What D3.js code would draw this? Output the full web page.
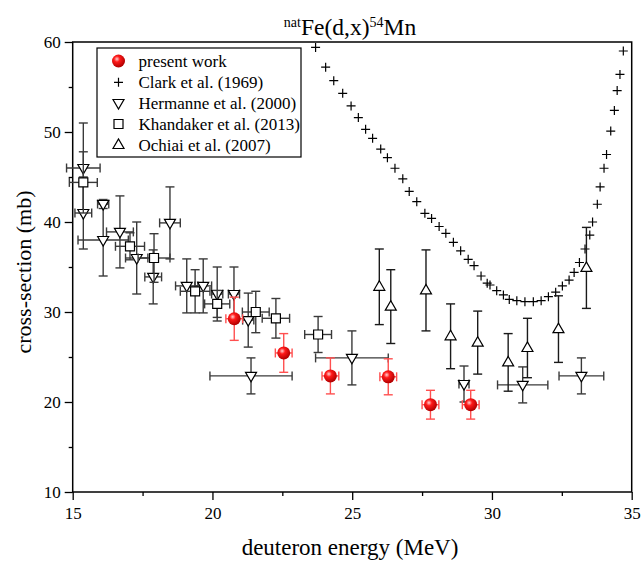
<!DOCTYPE html>
<html><head><meta charset="utf-8">
<script src="https://cdn.jsdelivr.net/npm/d3@7"></script>
<style>body{margin:0;background:#fff}svg{display:block}</style>
</head><body><svg id="c" width="642" height="563"></svg>
<script>
// Present work
const presentX = [20.78, 22.55, 24.22, 26.29, 27.8, 29.24];
const presentY = [29.25, 25.45, 22.9, 22.8, 19.7, 19.7];
const presentDY = [2.4, 2.15, 2.0, 2.0, 1.6, 1.6];
const presentDX = [0.3, 0.3, 0.3, 0.3, 0.3, 0.3];
// Clark et al. (1969)
const clarkX = [23.69, 24.05, 24.34, 24.66, 24.96, 25.22, 25.48, 25.73, 26.02, 26.26, 26.53, 26.81, 27.04, 27.31, 27.60, 27.84, 28.11, 28.35, 28.62, 28.88, 29.15, 29.36, 29.61, 29.83, 29.93, 30.17, 30.41, 30.62, 30.89, 31.18, 31.48, 31.76, 32.02, 32.28, 32.52, 32.76, 32.94, 33.13, 33.33, 33.50, 33.60, 33.77, 33.87, 34.01, 34.10, 34.25, 34.38, 34.48, 34.58, 34.70];
const clarkY = [59.4, 57.2, 55.7, 54.3, 52.9, 51.6, 50.3, 49.3, 48.1, 47.15, 45.97, 44.8, 43.4, 42.26, 40.96, 40.4, 39.5, 38.74, 37.74, 36.8, 35.85, 35.15, 34.0, 33.2, 33.0, 32.37, 31.9, 31.4, 31.26, 31.15, 31.15, 31.26, 31.7, 32.2, 32.9, 33.55, 34.4, 35.5, 37.0, 38.55, 40.0, 41.97, 43.9, 45.97, 47.5, 50.1, 52.4, 54.6, 56.4, 59.0];
// Hermanne et al. (2000)
const hermX = [15.38, 15.38, 16.09, 16.09, 16.69, 17.29, 17.88, 18.48, 19.08, 19.67, 20.17, 20.77, 21.28, 21.38, 24.99, 29.0, 31.1, 33.2];
const hermY = [46.0, 41.0, 42.0, 38.0, 38.9, 36.0, 33.9, 39.9, 32.9, 32.9, 32.0, 32.0, 29.1, 22.9, 24.9, 22.0, 21.9, 22.9];
const hermDY = [5.0, 4.0, 0.5, 4.0, 4.0, 4.0, 3.0, 4.0, 3.0, 3.0, 3.0, 3.0, 3.0, 2.0, 3.0, 2.0, 2.0, 2.0];
const hermDX = [0.6, 0.3, 0.2, 0.9, 0.48, 0.4, 0.3, 0.37, 0.4, 0.3, 0.2, 0.2, 0.2, 1.47, 1.3, 0.18, 0.9, 0.8];
// Khandaker et al. (2013)
const khanX = [15.38, 17.05, 17.91, 19.38, 20.17, 21.55, 22.27, 23.78];
const khanY = [44.4, 37.3, 36.0, 32.3, 30.9, 30.0, 29.3, 27.5];
const khanDY = [3.4, 1.5, 2.7, 2.4, 1.5, 2.3, 2.2, 2.0];
const khanDX = [0.5, 0.52, 0.57, 0.53, 0.45, 0.48, 0.49, 0.48];
// Ochiai et al. (2007)
const ochX = [25.97, 26.38, 27.64, 28.52, 29.49, 30.58, 31.27, 32.38, 33.38];
const ochY = [32.8, 30.6, 32.4, 27.3, 26.6, 24.4, 26.0, 28.1, 34.9];
const ochDY = [4.2, 4.1, 4.5, 3.6, 3.5, 3.2, 3.3, 3.7, 4.5];

const xTicks = [15, 20, 25, 30, 35];
const yTicks = [10, 20, 30, 40, 50, 60];
const legendLabels = ["present work", "Clark et al. (1969)", "Hermanne et al. (2000)", "Khandaker et al. (2013)", "Ochiai et al. (2007)"];

const FONT = "'Liberation Serif', 'Times New Roman', Tinos, 'DejaVu Serif', serif";
const svg = d3.select("#c").style("font-family", FONT);
const L = 72.7, R = 631.7, T = 42, B = 492;
const x = d3.scaleLinear().domain([15, 35]).range([L, R]);
const y = d3.scaleLinear().domain([10, 60]).range([B, T]);

const defs = svg.append("defs");
const g = defs.append("radialGradient").attr("id", "ball").attr("cx", "38%").attr("cy", "35%").attr("r", "65%");
g.append("stop").attr("offset", "0%").attr("stop-color", "#ffd0d0");
g.append("stop").attr("offset", "35%").attr("stop-color", "#ff1a1a");
g.append("stop").attr("offset", "100%").attr("stop-color", "#b00000");

// Axes
const xAxis = d3.axisBottom(x).tickValues(xTicks).tickSize(8).tickFormat(d3.format("d"));
const xAx = svg.append("g").attr("transform", `translate(0,${B})`).call(xAxis);
const yAxis = d3.axisLeft(y).tickValues(yTicks).tickSize(8).tickFormat(d3.format("d"));
const yAx = svg.append("g").attr("transform", `translate(${L},0)`).call(yAxis);
svg.append("g").attr("transform", `translate(0,${B})`).call(d3.axisBottom(x).tickValues([17.5, 22.5, 27.5, 32.5]).tickSize(4).tickFormat(""));
svg.append("g").attr("transform", `translate(${L},0)`).call(d3.axisLeft(y).tickValues([15, 25, 35, 45, 55]).tickSize(4).tickFormat(""));
svg.selectAll(".domain").remove();
svg.selectAll("g").attr("font-family", null);
svg.selectAll(".tick line").attr("stroke", "#000").attr("stroke-width", 1.3);
[xAx, yAx].forEach(a => a.selectAll("text").attr("font-size", 17).attr("fill", "#000"));
xAx.selectAll("text").attr("dy", "0.95em");
yAx.selectAll("text").attr("x", -12).attr("dy", "0.34em");

// Frame
svg.append("rect").attr("x", L).attr("y", T).attr("width", R - L).attr("height", B - T).attr("fill", "none").attr("stroke", "#000").attr("stroke-width", 1.5);

const plot = svg.append("g");
const cap = 4.5;
function errBars(xs, ys, dys, dxs, color) {
  const eg = plot.append("g").attr("stroke", color).attr("stroke-width", 1.4).attr("fill", "none");
  xs.forEach((xv, i) => {
    const cx = x(xv), cy = y(ys[i]);
    if (dys && dys[i]) {
      const y1 = y(ys[i] + dys[i]), y2 = y(ys[i] - dys[i]);
      eg.append("line").attr("x1", cx).attr("x2", cx).attr("y1", y1).attr("y2", y2);
      eg.append("line").attr("x1", cx - cap).attr("x2", cx + cap).attr("y1", y1).attr("y2", y1);
      eg.append("line").attr("x1", cx - cap).attr("x2", cx + cap).attr("y1", y2).attr("y2", y2);
    }
    if (dxs && dxs[i]) {
      const x1 = x(xv - dxs[i]), x2 = x(xv + dxs[i]);
      eg.append("line").attr("x1", x1).attr("x2", x2).attr("y1", cy).attr("y2", cy);
      eg.append("line").attr("x1", x1).attr("x2", x1).attr("y1", cy - cap).attr("y2", cy + cap);
      eg.append("line").attr("x1", x2).attr("x2", x2).attr("y1", cy - cap).attr("y2", cy + cap);
    }
  });
}
const triDown = "M-5.5,-3.5L5.5,-3.5L0,6Z";
const triUp = "M-5.5,3.5L5.5,3.5L0,-6Z";
const sq = "M-4.5,-4.5H4.5V4.5H-4.5Z";
const plus = "M-4.5,0H4.5M0,-4.5V4.5";

// Clark
plot.append("g").selectAll("path").data(clarkX).join("path")
  .attr("d", plus).attr("transform", (d, i) => `translate(${x(d)},${y(clarkY[i])})`)
  .attr("stroke", "#000").attr("stroke-width", 1.2).attr("fill", "none");
// Hermanne
errBars(hermX, hermY, hermDY, hermDX, "#3a3a3a");
plot.append("g").selectAll("path").data(hermX).join("path")
  .attr("d", triDown).attr("transform", (d, i) => `translate(${x(d)},${y(hermY[i])})`)
  .attr("stroke", "#000").attr("stroke-width", 1.2).attr("fill", "#fff");
// Khandaker
errBars(khanX, khanY, khanDY, khanDX, "#3a3a3a");
plot.append("g").selectAll("path").data(khanX).join("path")
  .attr("d", sq).attr("transform", (d, i) => `translate(${x(d)},${y(khanY[i])})`)
  .attr("stroke", "#000").attr("stroke-width", 1.2).attr("fill", "#fff");
// Ochiai
errBars(ochX, ochY, ochDY, null, "#1a1a1a");
plot.append("g").selectAll("path").data(ochX).join("path")
  .attr("d", triUp).attr("transform", (d, i) => `translate(${x(d)},${y(ochY[i])})`)
  .attr("stroke", "#000").attr("stroke-width", 1.2).attr("fill", "#fff");
// Present
errBars(presentX, presentY, presentDY, presentDX, "#ff5050");
plot.append("g").selectAll("circle").data(presentX).join("circle")
  .attr("cx", d => x(d)).attr("cy", (d, i) => y(presentY[i])).attr("r", 6.5)
  .attr("fill", "url(#ball)");

// Legend
const lg = svg.append("g");
lg.append("rect").attr("x", 97).attr("y", 48).attr("width", 204).attr("height", 109).attr("fill", "#fff").attr("stroke", "#000").attr("stroke-width", 1.2);
const rowsY = [61, 82.3, 103, 124, 145];
const sx = 118.5;
lg.append("circle").attr("cx", sx).attr("cy", rowsY[0]).attr("r", 6.5).attr("fill", "url(#ball)");
lg.append("path").attr("d", plus).attr("transform", `translate(${sx},${rowsY[1]})`).attr("stroke", "#000").attr("stroke-width", 1.2);
lg.append("path").attr("d", triDown).attr("transform", `translate(${sx},${rowsY[2]})`).attr("stroke", "#000").attr("stroke-width", 1.2).attr("fill", "#fff");
lg.append("path").attr("d", sq).attr("transform", `translate(${sx},${rowsY[3]})`).attr("stroke", "#000").attr("stroke-width", 1.2).attr("fill", "#fff");
lg.append("path").attr("d", triUp).attr("transform", `translate(${sx},${rowsY[4]})`).attr("stroke", "#000").attr("stroke-width", 1.2).attr("fill", "#fff");
lg.selectAll("text.l").data(legendLabels).join("text").attr("class", "l")
  .attr("x", 138.5).attr("y", (d, i) => rowsY[i]).attr("dy", "0.35em")
  .attr("font-size", 17).attr("fill", "#000").text(d => d);

// Title
const t = svg.append("text").attr("x", 350).attr("y", 35).attr("text-anchor", "middle").attr("font-size", 23.5).attr("fill", "#000");
t.append("tspan").attr("font-size", 14).attr("dy", -8).text("nat");
t.append("tspan").attr("dy", 8).text("Fe(d,x)");
t.append("tspan").attr("font-size", 14).attr("dy", -8).text("54");
t.append("tspan").attr("dy", 8).text("Mn");

// Axis titles
svg.append("text").attr("x", 350).attr("y", 555).attr("text-anchor", "middle").attr("font-size", 23).attr("fill", "#000").text("deuteron energy (MeV)");
svg.append("text").attr("transform", `translate(31,272) rotate(-90)`).attr("text-anchor", "middle").attr("font-size", 22).attr("fill", "#000").text("cross-section (mb)");

svg.selectAll("text").style("font-family", FONT);
</script></body></html>
